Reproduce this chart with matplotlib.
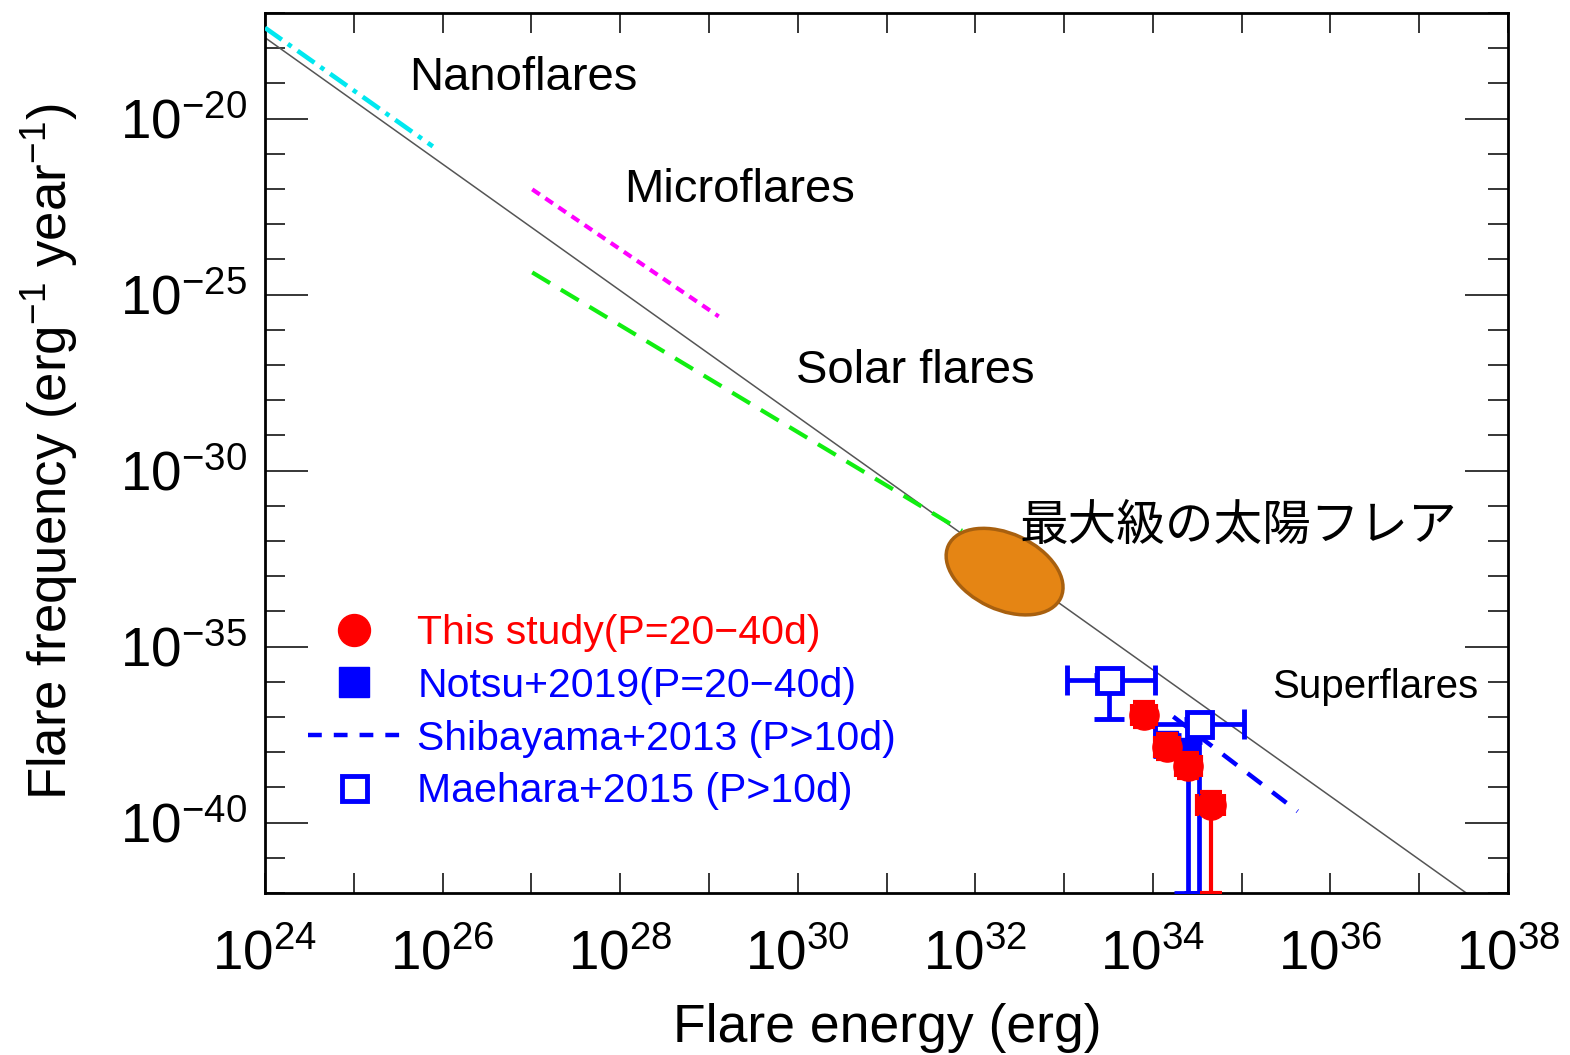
import numpy as np
import matplotlib
matplotlib.use('Agg')
import matplotlib.pyplot as plt
from matplotlib.patches import Ellipse
from matplotlib.transforms import ScaledTranslation
from matplotlib.lines import Line2D
from matplotlib.ticker import FixedLocator, FuncFormatter, NullFormatter

plt.rcParams['font.family'] = ['Liberation Sans', 'Noto Sans CJK JP', 'DejaVu Sans']
plt.rcParams['mathtext.fontset'] = 'custom'
plt.rcParams['mathtext.rm'] = 'Liberation Sans'
plt.rcParams['mathtext.it'] = 'Liberation Sans:italic'
plt.rcParams['mathtext.bf'] = 'Liberation Sans:bold'
plt.rcParams['mathtext.default'] = 'regular'

# ---------------- data (log10 values) ----------------
ref_logE = [24.0, 37.53]          # reference power law
ref_logF = [-17.70, -42.0]
nano_logE = [24.0, 25.89]         # nanoflares
nano_logF = [-17.42, -20.79]
micro_logE = [27.01, 29.11]       # microflares
micro_logF = [-22.01, -25.62]
solar_logE = [27.01, 31.85]       # solar flares
solar_logF = [-24.37, -31.71]
shiba_logE = [34.23, 35.63]       # Shibayama+2013
shiba_logF = [-36.99, -39.68]

this_logE = [33.90, 34.16, 34.40, 34.65]      # This study
this_logF = [-36.93, -37.84, -38.38, -39.51]
this_logE_lo = [33.76, 34.02, 34.26, 34.50]
this_logE_hi = [34.04, 34.30, 34.54, 34.80]
this_logF_lo = [-37.28, -38.19, -38.73, -42.0]
this_logF_hi = [-36.58, -37.49, -38.03, -39.14]

notsu_logE = [34.16, 34.40]                   # Notsu+2019
notsu_logF = [-37.70, -37.90]
notsu_logF_lo = [-38.10, -42.0]
notsu_logF_hi = [-37.50, -37.70]

mae_logE = [33.505, 34.52]                    # Maehara+2015
mae_logF = [-35.94, -37.21]
mae_logE_lo = [33.03, 34.02]
mae_logE_hi = [34.02, 35.03]
mae_logF_lo = [-37.07, -42.0]
mae_logF_hi = [-35.80, -37.05]

ell_logE = 32.33      # largest solar flares
ell_logF = -32.87

x_ticks_log = list(range(24, 39))
x_label_log = [24, 26, 28, 30, 32, 34, 36, 38]
y_ticks_log = list(range(-42, -16))
y_label_log = [-20, -25, -30, -35, -40]

labels_text = ['Nanoflares', 'Microflares', 'Solar flares', '最大級の太陽フレア', 'Superflares']
labels_logE = [26.906, 29.35, 31.33, 34.96, 36.50]
labels_logF = [-18.86, -22.04, -27.17, -31.61, -36.16]
labels_size = [34, 34, 34, 35, 29]

legend_labels = ['This study(P=20\u221240d)', 'Notsu+2019(P=20\u221240d)',
                 'Shibayama+2013 (P>10d)', 'Maehara+2015 (P>10d)']

def p(v):
    return 10.0 ** np.asarray(v, dtype=float)

# ---------------- figure ----------------
fig = plt.figure(figsize=(15.7, 10.55), dpi=100)
ax = fig.add_axes([265/1570, 1-893/1055, (1508-265)/1570, (893-13)/1055])
ax.set_xscale('log')
ax.set_yscale('log')
ax.set_xlim(1e24, 1e38)
ax.set_ylim(1e-42, 1e-17)

ax.plot(p(ref_logE), p(ref_logF), color='#555555', lw=1.1, zorder=2)
ax.plot(p(nano_logE), p(nano_logF), color='#00E8F0', lw=3.3,
        dashes=(4.5, 1.6, 1.0, 1.6), zorder=3)
ax.plot(p(micro_logE), p(micro_logF), color='#FF00FF', lw=3.0,
        dashes=(2.2, 1.6), zorder=3)
ax.plot(p(solar_logE), p(solar_logF), color='#11EE11', lw=3.0,
        dashes=(5, 3), zorder=3)
ax.plot(p(shiba_logE), p(shiba_logF), color='blue', lw=3.2,
        dashes=(4, 3), zorder=3)

# ellipse (size in display units)
cx, cy = p(ell_logE), p(ell_logF)
ell = Ellipse((0, 0), width=1.24, height=0.76, angle=-25,
              transform=fig.dpi_scale_trans + ScaledTranslation(cx, cy, ax.transData),
              facecolor='#E58514', edgecolor='#A8600F', lw=2.5, zorder=4)
ax.add_patch(ell)

def errs(c, lo, hi):
    c, lo, hi = p(c), p(lo), p(hi)
    return c, [c - lo, hi - c]

# Notsu
nx = p(notsu_logE)
ny, nyerr = errs(notsu_logF, notsu_logF_lo, notsu_logF_hi)
ax.errorbar(nx, ny, yerr=nyerr, fmt='s', color='blue', ms=16, elinewidth=3.4,
            capsize=10, capthick=3.4, zorder=5)

# Maehara
mx, mxerr = errs(mae_logE, mae_logE_lo, mae_logE_hi)
my, myerr = errs(mae_logF, mae_logF_lo, mae_logF_hi)
ax.errorbar(mx, my, xerr=mxerr, yerr=myerr, fmt='s', color='blue', mfc='white',
            mec='blue', mew=3.5, ms=18, elinewidth=3.4, capsize=10.5,
            capthick=3.4, zorder=6)

# This study
tx, txerr = errs(this_logE, this_logE_lo, this_logE_hi)
ty, tyerr = errs(this_logF, this_logF_lo, this_logF_hi)
ax.errorbar(tx, ty, xerr=txerr, yerr=tyerr, fmt='o', color='red', ms=21,
            elinewidth=3.0, capsize=8, capthick=3.0, zorder=7)

for t, e, f, s in zip(labels_text, labels_logE, labels_logF, labels_size):
    ax.text(p(e), p(f), t, fontsize=s, ha='center', va='center', color='black', zorder=8)

# ticks
ax.xaxis.set_major_locator(FixedLocator(p(x_ticks_log)))
ax.xaxis.set_minor_locator(FixedLocator([]))
ax.xaxis.set_major_formatter(FuncFormatter(
    lambda v, pos: (r'$10^{%d}$' % round(np.log10(v))) if round(np.log10(v)) in x_label_log else ''))
ax.yaxis.set_major_locator(FixedLocator(p(y_label_log)))
ax.yaxis.set_minor_locator(FixedLocator(p([v for v in y_ticks_log if v not in y_label_log])))
ax.yaxis.set_major_formatter(FuncFormatter(lambda v, pos: r'$10^{%d}$' % round(np.log10(v))))
ax.yaxis.set_minor_formatter(NullFormatter())

ax.tick_params(axis='x', which='both', direction='in', top=True, bottom=True,
               length=14.5, width=1.1, labelsize=39.5, pad=26)
ax.tick_params(axis='y', which='major', direction='in', left=True, right=True,
               length=31, width=1.1, labelsize=39.5, pad=13)
ax.tick_params(axis='y', which='minor', direction='in', left=True, right=True,
               length=14.5, width=1.1)
for sp in ax.spines.values():
    sp.set_linewidth(2.0)

ax.set_xlabel('Flare energy (erg)', fontsize=38.5, va='center')
ax.xaxis.set_label_coords(0.5004, (893-1028)/880)
ax.set_ylabel(r'Flare frequency (erg$^{-1}$ year$^{-1}$)', fontsize=38, va='center')
ax.yaxis.set_label_coords((50-265)/1243, (893-452)/880)

handles = [
    Line2D([], [], marker='o', color='red', ls='none', ms=23),
    Line2D([], [], marker='s', color='blue', ls='none', ms=21),
    Line2D([], [], color='blue', lw=3.2, dashes=(3.1, 2.7)),
    Line2D([], [], marker='s', mfc='white', mec='blue', mew=3.5, ls='none', ms=18),
]
leg = ax.legend(handles, legend_labels, loc='upper left',
                bbox_to_anchor=(308/1570, 1-614/1055), bbox_transform=fig.transFigure,
                frameon=False, fontsize=29.5, handlelength=2.25, handletextpad=0.42,
                labelspacing=0.36, borderpad=0, borderaxespad=0,
                labelcolor=['red', 'blue', 'blue', 'blue'])
leg.set_zorder(9)

fig.savefig('out.png', dpi=100)
